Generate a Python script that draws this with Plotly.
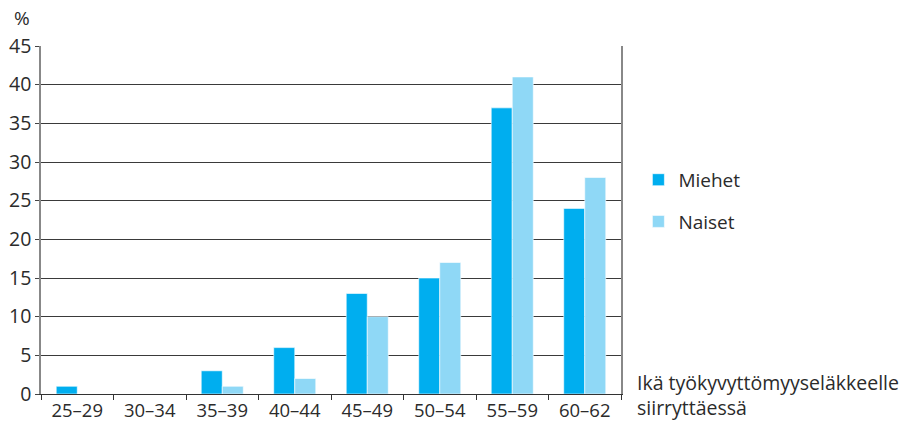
import plotly.graph_objects as go

# Age groups at the time of moving to a disability pension
age_groups = ["25–29", "30–34", "35–39", "40–44", "45–49", "50–54", "55–59", "60–62"]
men_pct = [1, 0, 3, 6, 13, 15, 37, 24]
women_pct = [0, 0, 1, 2, 10, 17, 41, 28]
y_ticks = [0, 5, 10, 15, 20, 25, 30, 35, 40, 45]

FONT = "Open Sans"
TEXT = "#2b2b2b"

fig = go.Figure()
fig.add_trace(go.Bar(
    x=age_groups, y=men_pct, name="Miehet", legendgroup="m",
    marker=dict(color="#00aeef", line=dict(color="white", width=0.6)),
))
fig.add_trace(go.Bar(
    x=age_groups, y=women_pct, name="Naiset", legendgroup="n",
    marker=dict(color="#8fd8f6", line=dict(color="white", width=0.6)),
))

fig.update_layout(
    width=923, height=421,
    margin=dict(l=41, r=302, t=46, b=27, autoexpand=False),
    paper_bgcolor="white", plot_bgcolor="white",
    barmode="group", bargap=0.42, bargroupgap=0,
    font=dict(family=FONT, size=19, color=TEXT),
    showlegend=True,
    legend=dict(
        x=1.03, y=0.67, xanchor="left", yanchor="top",
        font=dict(family=FONT, size=19, color=TEXT),
        traceorder="grouped", tracegroupgap=14,
        bgcolor="rgba(0,0,0,0)",
    ),
    xaxis=dict(
        type="category", tickson="boundaries",
        ticks="outside", ticklen=5, tickcolor="#333", tickwidth=1,
        showline=True, linecolor="#333", linewidth=1,
        showgrid=False,
        tickfont=dict(family=FONT, size=18.5, color=TEXT),
    ),
    yaxis=dict(
        range=[0, 45], tickvals=y_ticks,
        ticks="outside", ticklen=4, tickcolor="#444",
        showline=True, mirror=True, linecolor="#888", linewidth=1.5,
        showgrid=True, gridcolor="#3a3a3a", gridwidth=1,
        zeroline=False,
        tickfont=dict(family=FONT, size=19.5, color=TEXT),
    ),
    annotations=[
        dict(text="%", xref="paper", yref="paper", x=-0.05, y=1.0, yshift=28,
             xanchor="left", yanchor="middle", showarrow=False,
             font=dict(family=FONT, size=19, color=TEXT)),
        dict(text="Ikä työkyvyttömyyseläkkeelle<br>siirryttäessä",
             xref="paper", yref="paper", x=1.0, xshift=15, y=0.0, yshift=26,
             xanchor="left", yanchor="top", align="left", showarrow=False,
             borderpad=0,
             font=dict(family=FONT, size=19.5, color=TEXT)),
    ],
)

fig.write_html("out.html")
